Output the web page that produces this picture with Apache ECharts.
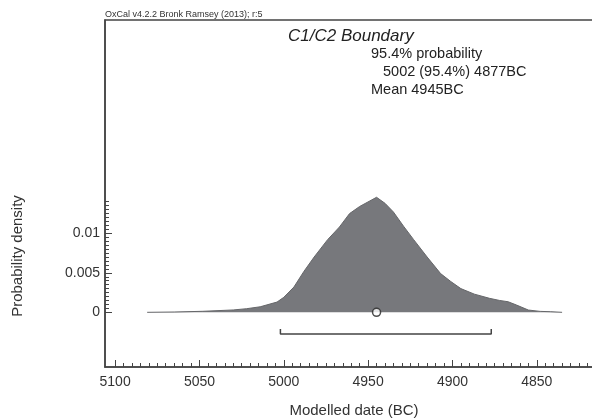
<!DOCTYPE html>
<html>
<head>
<meta charset="utf-8">
<script src="https://cdn.jsdelivr.net/npm/echarts@6/dist/echarts.min.js"></script>
<style>
html,body{margin:0;padding:0;background:#fff;}
#chart{width:592px;height:418px;}
</style>
</head>
<body>
<div id="chart"></div>
<script>
// ---- data ----
const years = [5081, 5065, 5048, 5030, 5022, 5014, 5004, 5000, 4994, 4988, 4982, 4974, 4967, 4961, 4955, 4945, 4940, 4935, 4929, 4923, 4915, 4907, 4901, 4895, 4887, 4878, 4872, 4867, 4862, 4855, 4848, 4842, 4835];
const density = [0, 0.00004, 0.00013, 0.0003, 0.00046, 0.0007, 0.0013, 0.0019, 0.0032, 0.0052, 0.0070, 0.0092, 0.0108, 0.0125, 0.0134, 0.01456, 0.0138, 0.0127, 0.0109, 0.0092, 0.0070, 0.0049, 0.0039, 0.0030, 0.0023, 0.00177, 0.0015, 0.00134, 0.00092, 0.00029, 0.00012, 0.00008, 0];
const rangeFrom = 5002;
const rangeTo = 4877;
const bracketLevel = -0.00275;
const bracketTip = -0.0021;
const meanYear = 4945;
const xTickLabels = [5100, 5050, 5000, 4950, 4900, 4850];
const yTickLabels = [0, 0.005, 0.01];
const titleText = 'C1/C2 Boundary';
const infoLines = ['95.4% probability', '5002 (95.4%) 4877BC', 'Mean 4945BC'];
const creditText = 'OxCal v4.2.2 Bronk Ramsey (2013); r:5';
const yName = 'Probability density';
const xName = 'Modelled date (BC)';

// minor tick positions
const xMinor = [];
for (let v = 5100; v >= 4815; v -= 5) xMinor.push(v);
const yMinor = [];
for (let i = 0; i <= 28; i++) yMinor.push(Math.round(i * 5) / 10000);

const FONT = 'Liberation Sans, Arial, sans-serif';
const DARK = '#333';
const X_MIN = 4806, X_MAX = 5106;
const Y_MIN = -0.00692, Y_MAX = 0.0370;

const chart = echarts.init(document.getElementById('chart'), null, {renderer: 'canvas'});
const option = {
  animation: false,
  backgroundColor: '#fff',
  grid: {left: 105, right: -19, top: 20, bottom: 51, outerBoundsMode: 'none', containLabel: false,
         show: true, borderColor: '#444', borderWidth: 1.5, backgroundColor: 'transparent'},
  xAxis: [
    {
      type: 'value', inverse: true, min: X_MIN, max: X_MAX, position: 'bottom',
      axisLine: {show: true, onZero: false, lineStyle: {color: '#444', width: 1.5}},
      axisTick: {show: true, inside: true, length: 7, customValues: xTickLabels, lineStyle: {color: '#444', width: 1}},
      axisLabel: {show: true, customValues: xTickLabels, color: DARK, fontSize: 14, fontFamily: FONT, margin: 8, formatter: v => String(v)},
      splitLine: {show: false},
      name: xName, nameLocation: 'middle', nameGap: 36,
      nameTextStyle: {color: DARK, fontSize: 15, fontFamily: FONT, padding: [0, 8, 0, 0]}
    },
    {
      type: 'value', inverse: true, min: X_MIN, max: X_MAX, position: 'bottom', offset: 0,
      axisLine: {show: false, onZero: false},
      axisTick: {show: true, inside: true, length: 4, customValues: xMinor, lineStyle: {color: '#444', width: 1}},
      axisLabel: {show: false},
      splitLine: {show: false}
    }
  ],
  yAxis: [
    {
      type: 'value', min: Y_MIN, max: Y_MAX, position: 'left',
      axisLine: {show: true, onZero: false, lineStyle: {color: '#444', width: 1.5}},
      axisTick: {show: true, inside: true, length: 7, customValues: yTickLabels, lineStyle: {color: '#444', width: 1}},
      axisLabel: {show: true, customValues: yTickLabels, color: DARK, fontSize: 14, fontFamily: FONT, margin: 5, formatter: v => String(v)},
      splitLine: {show: false}
    },
    {
      type: 'value', min: Y_MIN, max: Y_MAX, position: 'left', offset: 0,
      axisLine: {show: false, onZero: false},
      axisTick: {show: true, inside: true, length: 4, customValues: yMinor, lineStyle: {color: '#444', width: 1}},
      axisLabel: {show: false},
      splitLine: {show: false}
    }
  ],
  series: [
    {
      type: 'line', xAxisIndex: 0, yAxisIndex: 0,
      data: years.map((y, i) => [y, density[i]]),
      symbol: 'none', smooth: false,
      lineStyle: {color: '#66676a', width: 1},
      areaStyle: {color: '#77787c', opacity: 1},
      z: 2
    },
    {
      type: 'line', xAxisIndex: 0, yAxisIndex: 0,
      data: [[rangeFrom, bracketTip], [rangeFrom, bracketLevel], [rangeTo, bracketLevel], [rangeTo, bracketTip]],
      symbol: 'none',
      lineStyle: {color: '#444', width: 1.5},
      z: 3
    },
    {
      type: 'scatter', xAxisIndex: 0, yAxisIndex: 0,
      data: [[meanYear, 0]],
      symbol: 'circle', symbolSize: 8,
      itemStyle: {color: '#fff', borderColor: '#222', borderWidth: 1.5},
      z: 5
    }
  ],
  graphic: [
    {type: 'text', left: 105, top: 10, style: {text: creditText, fill: DARK, font: '9px ' + FONT}},
    {type: 'text', left: 288, top: 28, style: {text: titleText, fill: '#222', font: 'italic 17px ' + FONT}},
    {type: 'text', left: 371, top: 46, style: {text: infoLines[0], fill: '#222', font: '14.5px ' + FONT}},
    {type: 'text', left: 383, top: 64, style: {text: infoLines[1], fill: '#222', font: '14.5px ' + FONT}},
    {type: 'text', left: 371, top: 82, style: {text: infoLines[2], fill: '#222', font: '14.5px ' + FONT}},
    {type: 'text', x: 18, y: 256, rotation: Math.PI / 2,
     style: {text: yName, fill: DARK, font: '15px ' + FONT, align: 'center', verticalAlign: 'middle'}}
  ]
};
chart.setOption(option);
</script>
</body>
</html>
